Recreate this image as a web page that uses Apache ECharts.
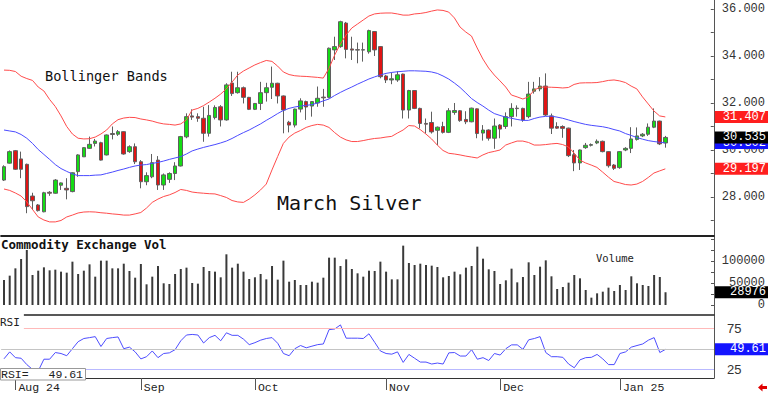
<!DOCTYPE html>
<html><head><meta charset="utf-8">
<script src="https://cdn.jsdelivr.net/npm/echarts@6/dist/echarts.min.js"></script>
<style>html,body{margin:0;padding:0;background:#fff}#c{width:768px;height:393px}</style>
</head><body><div id="c"></div>
<script>
const open = [28.72,29.44,29.97,29.62,29.39,28.04,27.66,27.37,28.20,28.16,
28.50,28.37,28.23,29.08,29.71,30.07,30.28,30.31,29.79,30.70,
30.67,30.78,29.93,30.14,29.50,28.65,28.86,29.57,28.51,28.75,
29.00,29.32,30.56,31.45,31.42,31.35,30.71,31.38,31.84,31.28,
32.85,32.44,32.65,32.24,31.73,31.98,32.44,32.67,32.84,32.30,
31.18,31.06,31.74,32.06,31.87,32.00,32.25,32.24,34.26,34.40,
35.40,34.30,34.27,34.25,34.18,35.04,34.40,33.15,32.98,32.98,
33.23,31.70,32.53,31.77,31.13,31.17,30.84,31.00,30.75,31.60,
31.67,31.30,31.20,31.75,30.72,30.85,30.50,31.06,31.00,31.42,
31.78,31.77,31.42,32.50,32.60,32.72,31.45,31.00,31.00,30.93,
29.80,29.45,30.10,30.20,30.30,30.37,29.93,29.36,29.25,30.00,
30.07,30.45,30.60,30.67,30.97,31.23,30.30];
const close = [29.29,29.93,29.18,29.18,27.59,27.84,27.42,28.18,28.16,28.72,
28.60,28.30,29.03,29.79,30.10,30.24,30.38,29.57,30.64,30.66,
30.78,29.83,30.14,29.50,28.65,28.91,29.46,28.51,28.94,29.00,
29.32,30.57,31.42,31.40,31.35,30.71,31.47,31.81,31.28,32.77,
32.40,32.65,32.24,31.73,31.98,32.44,32.65,32.84,32.30,31.70,
31.06,31.74,32.09,31.83,32.06,32.20,32.22,34.33,34.40,35.46,
34.28,34.25,34.25,34.27,35.08,34.26,33.12,32.98,33.03,33.20,
31.70,32.53,31.77,31.13,31.10,30.77,30.97,30.75,31.67,31.68,
31.25,31.20,31.78,30.70,30.85,30.50,31.02,30.89,31.42,31.77,
31.76,31.28,32.38,32.60,32.72,31.49,30.93,30.93,30.92,29.76,
29.45,30.00,30.20,30.23,30.37,29.93,29.33,29.22,29.93,30.07,
30.47,30.60,30.67,30.97,31.23,30.26,30.535];
const low = [28.68,29.42,29.15,28.80,27.31,27.45,27.38,27.35,28.05,28.14,
28.30,27.90,28.20,28.86,29.70,30.05,30.15,29.55,29.77,30.45,
30.60,29.80,29.88,29.40,28.37,28.50,28.80,28.30,28.30,28.60,
28.72,29.30,30.50,31.28,31.20,30.35,30.57,31.30,31.00,31.25,
32.30,32.40,31.98,31.70,31.70,31.70,32.06,32.17,31.98,30.71,
30.75,30.96,31.60,31.28,31.42,31.84,31.84,32.20,33.83,34.35,
33.90,33.83,33.69,33.76,34.10,34.00,33.05,32.85,32.80,32.90,
31.34,31.34,31.74,30.92,30.70,30.70,30.20,30.70,30.72,31.50,
31.20,31.10,31.18,30.50,30.40,30.40,30.05,30.50,30.90,31.00,
31.42,31.20,31.35,32.40,32.50,31.45,30.68,30.90,30.52,29.70,
29.10,29.15,30.05,30.15,30.25,29.90,29.25,29.15,29.20,29.95,
29.87,30.40,30.55,30.60,30.93,30.21,30.10];
const high = [29.35,29.98,30.00,29.93,29.42,28.18,27.70,28.22,28.25,28.76,
28.62,28.80,29.05,29.82,30.12,30.57,30.47,30.35,30.66,31.00,
30.85,30.80,30.20,30.28,29.57,29.05,29.83,29.74,29.00,29.05,
29.48,30.60,31.56,31.73,31.56,31.84,31.91,31.90,31.91,32.84,
33.33,33.33,32.70,32.26,32.00,32.90,32.86,33.55,32.86,32.32,
31.24,31.76,32.20,32.10,32.08,32.70,32.60,34.36,34.82,35.50,
35.45,34.82,34.57,34.57,35.12,35.06,34.42,33.20,33.30,33.35,
33.25,32.56,32.55,31.80,31.34,31.63,31.00,31.20,31.78,32.00,
31.70,31.65,31.80,31.77,31.06,30.88,31.34,31.10,31.60,31.99,
31.90,31.80,32.90,32.90,33.10,33.26,31.55,31.18,31.05,30.95,
30.00,30.02,30.30,30.28,30.45,30.40,29.95,29.40,29.95,30.12,
30.97,30.96,30.72,31.13,31.77,31.25,30.60];
const upperBand = [33.40,33.39,33.34,33.14,33.04,32.96,32.68,32.51,32.15,31.85,
31.45,31.00,30.68,30.50,30.47,30.48,30.55,30.68,30.85,31.11,
31.29,31.36,31.39,31.38,31.32,31.28,31.23,31.16,31.11,31.09,
31.06,31.11,31.28,31.70,31.77,31.89,32.04,32.20,32.38,32.60,
32.89,33.19,33.36,33.49,33.62,33.72,33.81,33.77,33.57,33.32,
33.21,33.16,33.14,33.13,33.11,33.09,33.06,33.47,34.04,34.51,
34.89,35.19,35.36,35.53,35.70,35.79,35.82,35.83,35.83,35.79,
35.74,35.74,35.79,35.81,35.85,35.91,35.96,35.94,35.87,35.62,
35.23,35.02,34.85,34.34,33.87,33.49,33.19,32.94,32.68,32.34,
32.26,32.17,32.26,32.55,32.67,32.68,32.67,32.66,32.64,32.66,
32.79,32.85,32.86,32.86,32.87,32.91,32.96,32.98,32.94,32.87,
32.72,32.60,32.26,31.96,31.66,31.45,31.407];
const middleBand = [30.85,30.81,30.77,30.66,30.50,30.28,30.02,29.81,29.60,29.38,
29.21,29.09,28.98,28.91,28.91,28.91,28.93,28.94,29.00,29.06,
29.13,29.19,29.26,29.32,29.36,29.38,29.43,29.47,29.53,29.60,
29.66,29.72,29.83,29.96,30.04,30.11,30.17,30.23,30.30,30.38,
30.49,30.62,30.74,30.85,30.98,31.11,31.26,31.40,31.55,31.68,
31.77,31.83,31.87,31.90,31.93,32.00,32.09,32.17,32.32,32.45,
32.57,32.68,32.80,32.91,33.02,33.11,33.19,33.26,33.30,33.33,
33.35,33.37,33.37,33.36,33.35,33.32,33.26,33.15,33.02,32.85,
32.66,32.43,32.19,32.02,31.87,31.70,31.55,31.47,31.40,31.35,
31.30,31.26,31.26,31.34,31.40,31.43,31.44,31.40,31.35,31.28,
31.21,31.15,31.09,31.05,31.02,30.99,30.94,30.87,30.81,30.70,
30.62,30.53,30.46,30.40,30.36,30.33,30.302];
const lowerBand = [28.34,28.28,28.17,28.04,27.79,27.47,27.15,27.02,26.94,26.94,
27.00,27.15,27.23,27.32,27.36,27.37,27.36,27.33,27.31,27.28,
27.26,27.23,27.23,27.28,27.34,27.53,27.77,27.91,28.02,28.09,
28.19,28.32,28.28,28.21,28.18,28.16,28.14,28.13,28.06,27.98,
27.85,27.79,27.77,27.91,28.09,28.30,28.55,29.15,29.72,30.28,
30.55,30.72,30.83,30.96,31.04,31.09,31.06,30.96,30.74,30.55,
30.43,30.36,30.36,30.40,30.45,30.49,30.51,30.55,30.58,30.72,
30.85,31.04,31.02,30.87,30.68,30.47,30.21,29.98,29.86,29.83,
29.79,29.74,29.70,29.66,29.79,29.89,29.94,30.00,30.21,30.30,
30.38,30.38,30.32,30.21,30.21,30.23,30.26,30.28,30.23,30.13,
29.87,29.57,29.45,29.36,29.26,29.06,28.85,28.66,28.60,28.53,
28.51,28.55,28.66,28.83,29.02,29.11,29.197];
const volume = [56800,66700,83300,104600,125000,68200,78000,85600,78800,80300,
75800,73500,98500,70500,78000,92400,64400,100800,100800,83300,
83300,93900,77300,62100,93200,47000,64400,88600,49300,47700,
70500,81800,84900,50000,48500,86400,77300,75800,62900,115200,
84900,93900,75800,59100,62900,70500,58300,88600,57600,100800,
53000,56800,45500,45500,53000,50800,62100,107600,107600,88600,
103800,81800,72000,64400,78000,77300,98500,75800,58300,58300,
134900,95500,90900,93900,90900,89400,86400,62900,65900,75800,
69700,84900,88600,132600,105300,81100,77300,47700,56100,82600,
51500,63600,97000,68200,87100,101500,65200,36400,40900,50800,
68200,60600,34100,16700,26500,30300,39400,31800,45500,34100,
65200,49300,45500,43200,68200,63600,28976];
const rsi = [38.0,46.5,39.4,38.7,30.9,25.0,23.0,37.5,37.5,45.7,
44.5,41.8,50.4,59.0,62.9,64.0,65.2,53.1,62.9,64.0,
64.8,50.4,52.3,46.5,37.9,40.6,47.6,39.4,44.5,45.3,
49.2,60.1,67.2,67.9,67.2,57.4,64.0,66.8,60.1,69.9,
66.8,66.8,62.1,55.4,57.8,60.9,62.9,64.0,57.0,44.5,
41.8,50.4,54.3,51.5,53.5,55.4,56.2,73.8,74.6,79.6,
63.3,63.3,63.3,62.9,68.7,58.2,47.6,44.5,43.7,46.5,
33.6,43.4,38.7,34.0,34.0,31.6,32.8,31.6,45.3,45.7,
41.4,41.4,49.2,37.5,39.4,35.9,44.5,42.6,50.4,55.1,
55.1,49.6,61.3,62.9,65.2,45.7,40.6,40.6,39.8,31.6,
27.0,36.7,39.4,39.8,43.4,37.9,30.9,30.9,44.5,46.5,
52.3,54.3,56.2,60.9,64.0,45.7,49.61];
const tickIndex = [2, 24, 44, 67, 87, 108];
const tickLabels = ['Aug 24', 'Sep', 'Oct', 'Nov', 'Dec', 'Jan 25'];
const priceLabels = [28, 30, 32, 34, 36];
const priceTicks = [27, 28, 29, 30, 31, 32, 33, 34, 35, 36];
const volLabels = [0, 50000, 100000];
const rsiLabels = [25, 75];

const N = open.length;
const last = N - 1;
const cats = Array.from({length: N + 8}, (_, i) => String(i));
const MONO = '"DejaVu Sans Mono", "Liberation Mono", monospace';
const LMONO = '"Liberation Mono", "DejaVu Sans Mono", monospace';

const chart = echarts.init(document.getElementById('c'), null, {renderer: 'svg', width: 768, height: 393});

function tagSeries(xi, yi, items) {
  return {
    type: 'custom', xAxisIndex: xi, yAxisIndex: yi, clip: false, silent: true, z: 10,
    encode: {x: 0, y: 1},
    data: items.map(t => [last, t.v]),
    renderItem: (params, api) => {
      const t = items[params.dataIndex];
      const y = api.coord([last, api.value(1)])[1];
      const x0 = params.coordSys.x + params.coordSys.width + 1;
      return {type: 'group', children: [
        {type: 'rect', shape: {x: x0, y: y - 6, width: 768 - x0, height: 12}, style: {fill: t.c}},
        {type: 'text', style: {text: t.s, x: 766, y: y, align: 'right', verticalAlign: 'middle', fill: '#fff', font: '12px ' + LMONO}}
      ]};
    }
  };
}

const xBase = (gi) => ({
  type: 'category', gridIndex: gi, data: cats, boundaryGap: true,
  axisLine: {show: true, onZero: false, lineStyle: {color: '#222', width: gi === 0 ? 2 : 1.5}},
  axisTick: {show: false}, axisLabel: {show: false}, splitLine: {show: false}
});
const xDates = Object.assign(xBase(2), {
  axisLine: {show: true, onZero: false, lineStyle: {color: '#333', width: 1}},
  axisTick: {show: true, alignWithLabel: true, length: 12, interval: (i) => tickIndex.includes(i), lineStyle: {color: '#555'}},
  axisLabel: {show: true, interval: (i) => tickIndex.includes(i), align: 'left', margin: 3, padding: [0, 0, 0, 3],
    formatter: (v, i) => { const k = tickIndex.indexOf(i); return k >= 0 ? tickLabels[k] : ''; },
    fontFamily: LMONO, fontSize: 11.5, color: '#222'}
});

const yRight = (gi, min, max, labels, ticks, fmt, labelOpt) => ({
  type: 'value', gridIndex: gi, position: 'right', min, max, scale: false,
  axisLine: {show: true, onZero: false, lineStyle: {color: '#555', width: 1}},
  axisTick: {show: true, inside: true, length: 3, customValues: ticks, lineStyle: {color: '#555'}},
  axisLabel: Object.assign({show: true, customValues: labels, formatter: fmt, fontFamily: LMONO, fontSize: 12, color: '#333'}, labelOpt),
  splitLine: {show: false}
});

const option = {
  animation: false,
  backgroundColor: '#fff',
  grid: [
    {left: 1.15, right: 54, top: 0, height: 236},
    {left: 1.15, right: 54, top: 236, height: 79},
    {left: 1.15, right: 54, top: 315, height: 66}
  ],
  xAxis: [xBase(0), xBase(1), xDates],
  yAxis: [
    yRight(0, 26.34, 36.383, priceLabels, priceTicks, v => Number(v).toFixed(3), {margin: 8}),
    yRight(1, -22727, 156818, volLabels, [0, 25000, 50000, 75000, 100000, 125000, 150000], v => String(v), {margin: 51, align: 'right'}),
    yRight(2, 14.46, 91.74, rsiLabels, [25, 50, 75], v => String(v), {margin: 13, fontSize: 13, fontFamily: '"Liberation Sans", Arial, sans-serif'})
  ],
  graphic: [
    {type: 'text', z: 50, style: {text: 'Bollinger Bands', x: 45, y: 76, verticalAlign: 'middle', fill: '#111', font: '13.6px ' + MONO}},
    {type: 'text', z: 50, style: {text: 'March Silver', x: 277, y: 203, verticalAlign: 'middle', fill: '#111', font: '20px ' + MONO}},
    {type: 'text', z: 50, style: {text: 'Commodity Exchange Vol', x: 1, y: 244, verticalAlign: 'middle', fill: '#111', font: 'bold 12.5px ' + MONO}},
    {type: 'text', z: 50, style: {text: 'Volume', x: 596, y: 258, verticalAlign: 'middle', fill: '#222', font: '10.5px ' + MONO}},
    {type: 'text', z: 50, style: {text: 'RSI', x: 0, y: 322, verticalAlign: 'middle', fill: '#222', font: '11px ' + MONO, backgroundColor: '#fff', padding: [2, 4, 4, 0]}},
    {type: 'rect', z: 50, shape: {x: 0.5, y: 368.5, width: 85, height: 11.5}, style: {fill: '#fff', stroke: '#999', lineWidth: 1}},
    {type: 'text', z: 51, style: {text: 'RSI=', x: 1, y: 374.5, verticalAlign: 'middle', fill: '#222', font: '11.5px ' + LMONO}},
    {type: 'text', z: 51, style: {text: rsi[last].toFixed(2), x: 83, y: 374.5, align: 'right', verticalAlign: 'middle', fill: '#222', font: '11.5px ' + LMONO}},
    {type: 'polygon', z: 50, shape: {points: [[758, 387.5], [762.5, 383.5], [762.5, 386], [767, 386], [767, 389], [762.5, 389], [762.5, 391.5]]}, style: {fill: '#e00000'}}
  ],
  series: [
    {type: 'line', name: 'upper', xAxisIndex: 0, yAxisIndex: 0, data: upperBand, symbol: 'none', silent: true, lineStyle: {color: '#ff4b4b', width: 1}},
    {type: 'line', name: 'middle', xAxisIndex: 0, yAxisIndex: 0, data: middleBand, symbol: 'none', silent: true, lineStyle: {color: '#4b4bff', width: 1}},
    {type: 'line', name: 'lower', xAxisIndex: 0, yAxisIndex: 0, data: lowerBand, symbol: 'none', silent: true, lineStyle: {color: '#ff4b4b', width: 1}},
    {type: 'candlestick', xAxisIndex: 0, yAxisIndex: 0, barWidth: 4, silent: true,
      data: open.map((o, i) => [o, close[i], low[i], high[i]]),
      itemStyle: {color: '#14dc14', color0: '#e01414', borderColor: '#5f5f5f', borderColor0: '#5f5f5f', borderWidth: 1}},
    {type: 'bar', xAxisIndex: 1, yAxisIndex: 1, data: volume, barWidth: 2, silent: true, itemStyle: {color: '#3a3a3a'}},
    {type: 'line', xAxisIndex: 2, yAxisIndex: 2, data: rsi, symbol: 'none', silent: true, lineStyle: {color: '#4d4dff', width: 1},
      markLine: {silent: true, symbol: 'none', label: {show: false}, animation: false,
        data: [
          {yAxis: 75, lineStyle: {color: '#ffb9b9', width: 1, type: 'solid'}},
          {yAxis: 50, lineStyle: {color: '#c4c4c4', width: 1, type: 'solid'}},
          {yAxis: 25, lineStyle: {color: '#b9b9ff', width: 1, type: 'solid'}}
        ]}},
    tagSeries(0, 0, [
      {v: upperBand[last], c: '#ff1e1e', s: upperBand[last].toFixed(3)},
      {v: lowerBand[last], c: '#ff1e1e', s: lowerBand[last].toFixed(3)},
      {v: middleBand[last], c: '#1414ff', s: middleBand[last].toFixed(3)},
      {v: close[last], c: '#000000', s: close[last].toFixed(3)}
    ]),
    tagSeries(1, 1, [{v: volume[last], c: '#000000', s: String(volume[last])}]),
    tagSeries(2, 2, [{v: rsi[last], c: '#1414ff', s: rsi[last].toFixed(2)}])
  ]
};
chart.setOption(option);
</script>
</body></html>
